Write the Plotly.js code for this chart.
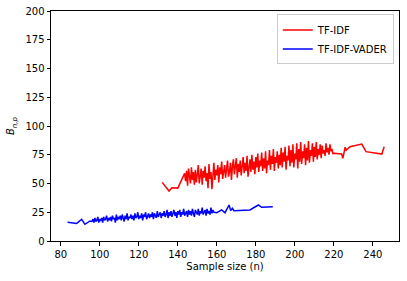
<!DOCTYPE html>
<html>
<head>
<meta charset="utf-8">
<script src="https://cdn.plot.ly/plotly-3.0.1.min.js"></script>
<style>html,body{margin:0;padding:0;background:#fff;}#chart{width:407px;height:281px;}</style>
</head>
<body>
<div id="chart"></div>
<script>
// TF-IDF series
const tfidfX = [132, 135.5, 137, 140, 143.5,
  144,144.5,145,145.5,146,146.5,147,147.5,148,148.5,
  149,149.5,150,150.5,151,151.5,152,152.5,153,153.5,
  154,154.5,155,155.5,156,156.5,157,157.5,158,158.5,
  159,159.5,160,160.5,161,161.5,162,162.5,163,163.5,
  164,164.5,165,165.5,166,166.5,167,167.5,168,168.5,
  169,169.5,170,170.5,171,171.5,172,172.5,173,173.5,
  174,174.5,175,175.5,176,176.5,177,177.5,178,178.5,
  179,179.5,180,180.5,181,181.5,182,182.5,183,183.5,
  184,184.5,185,185.5,186,186.5,187,187.5,188,188.5,
  189,189.5,190,190.5,191,191.5,192,192.5,193,193.5,
  194,194.5,195,195.5,196,196.5,197,197.5,198,198.5,
  199,199.5,200,200.5,201,201.5,202,202.5,203,203.5,
  204,204.5,205,205.5,206,206.5,207,207.5,208,208.5,
  209,209.5,210,210.5,211,211.5,212,212.5,213,213.5,
  214,214.5,215,215.5,216,216.5,217,217.5,218,218.5,
  219,219.5,
  220, 224, 224.6, 225.8, 226.3, 228.3, 234.3, 236.5, 244.6, 245.8];
const tfidfY = [51, 43.5, 46.3, 46, 58.8,
  52,61,48,63,55,50,64,53,60,49,
  62,51,58,66,50,57,63,49,61,55,
  65,52,59,46,67,54,60,45,63,68,
  53,62,57,66,51,64,58,69,54,61,
  66,55,63,70,56,60,68,53,65,71,
  58,64,72,55,67,60,70,57,63,73,
  59,68,61,74,56,66,71,60,75,62,
  69,58,73,64,76,60,70,65,77,61,
  72,63,78,59,70,66,79,62,74,67,
  80,61,73,68,78,63,75,66,81,64,
  77,69,82,62,74,70,83,65,79,68,
  84,64,76,71,85,63,80,69,86,67,
  78,72,84,66,81,70,87,68,79,74,
  85,69,82,73,86,71,80,75,84,72,
  83,76,79,74,85,77,81,75,84,78,
  80,76,
  76.2, 75.6, 71.9, 81.5, 79, 82, 84.3, 77.7, 75.6, 82];

// TF-IDF-VADER series
const vaderX = [83.5, 86, 88.2, 90.7, 92.4, 95,
  96,96.5,97,97.5,98,98.5,99,99.5,100,100.5,
  101,101.5,102,102.5,103,103.5,104,104.5,105,105.5,
  106,106.5,107,107.5,108,108.5,109,109.5,110,110.5,
  111,111.5,112,112.5,113,113.5,114,114.5,115,115.5,
  116,116.5,117,117.5,118,118.5,119,119.5,120,120.5,
  121,121.5,122,122.5,123,123.5,124,124.5,125,125.5,
  126,126.5,127,127.5,128,128.5,129,129.5,130,130.5,
  131,131.5,132,132.5,133,133.5,134,134.5,135,135.5,
  136,136.5,137,137.5,138,138.5,139,139.5,140,140.5,
  141,141.5,142,142.5,143,143.5,144,144.5,145,145.5,
  146,146.5,147,147.5,148,148.5,149,149.5,150,150.5,
  151,151.5,152,152.5,153,153.5,154,154.5,155,155.5,
  156,156.5,157,157.5,158,158.5,
  160, 162.5, 164.2, 166.3, 167.1, 168, 168.8, 177, 181.3, 183, 188.7];
const vaderY = [16.2, 15.5, 15.3, 18.9, 14.5, 17.4,
  17,19,16,20,17,18,21,16,19,18,
  20,16,21,18,19,22,17,20,18,21,
  17,22,19,20,16,23,18,21,19,22,
  18,23,20,17,22,19,24,18,21,20,
  23,19,22,18,24,20,21,25,19,22,
  20,24,18,23,21,25,19,22,24,20,
  23,21,25,19,24,22,20,26,21,23,
  25,20,24,22,26,21,23,27,20,25,
  22,26,21,24,27,22,25,20,26,23,
  27,21,25,23,28,22,24,26,21,27,
  23,26,22,28,24,21,27,25,23,28,
  22,26,24,29,23,25,27,22,28,24,
  26,23,29,24,27,25,
  24.6, 27, 24.6, 31.3, 26.4, 28.4, 26.4, 27, 31.3, 29.3, 29.8];

const seriesNames = ['TF-IDF', 'TF-IDF-VADER'];
const xTicks = [80, 100, 120, 140, 160, 180, 200, 220, 240];
const yTicks = [0, 25, 50, 75, 100, 125, 150, 175, 200];

const font = {family: 'DejaVu Sans, sans-serif', size: 10, color: '#000'};

const traces = [
  {x: tfidfX, y: tfidfY, type: 'scatter', mode: 'lines', name: seriesNames[0],
   line: {color: '#ff0000', width: 1.5}},
  {x: vaderX, y: vaderY, type: 'scatter', mode: 'lines', name: seriesNames[1],
   line: {color: '#0000ff', width: 1.5}}
];

const axisCommon = {
  showgrid: false, zeroline: false, showline: true, linecolor: '#000', linewidth: 1,
  mirror: true, ticks: 'outside', ticklen: 3.5, tickwidth: 1, tickcolor: '#000',
  tickfont: font
};

const layout = {
  width: 407, height: 281,
  margin: {l: 51, r: 8, t: 11, b: 40},
  paper_bgcolor: '#fff', plot_bgcolor: '#fff',
  font: font,
  showlegend: true,
  legend: {x: 0.985, y: 0.985, xanchor: 'right', yanchor: 'top',
    bgcolor: 'rgba(255,255,255,0.8)', bordercolor: '#cccccc', borderwidth: 1,
    font: font, tracegroupgap: 0},
  xaxis: Object.assign({}, axisCommon, {
    range: [75, 253.4], tickvals: xTicks, ticktext: xTicks.map(String),
    title: {text: 'Sample size (n)', font: font, standoff: 4}
  }),
  yaxis: Object.assign({}, axisCommon, {
    range: [0, 200], tickvals: yTicks, ticktext: yTicks.map(String),
    title: {text: '<i>B</i><sub><i>n,p</i></sub>', font: font, standoff: 8}
  })
};

Plotly.newPlot('chart', traces, layout, {staticPlot: true, displayModeBar: false});
</script>
</body>
</html>
